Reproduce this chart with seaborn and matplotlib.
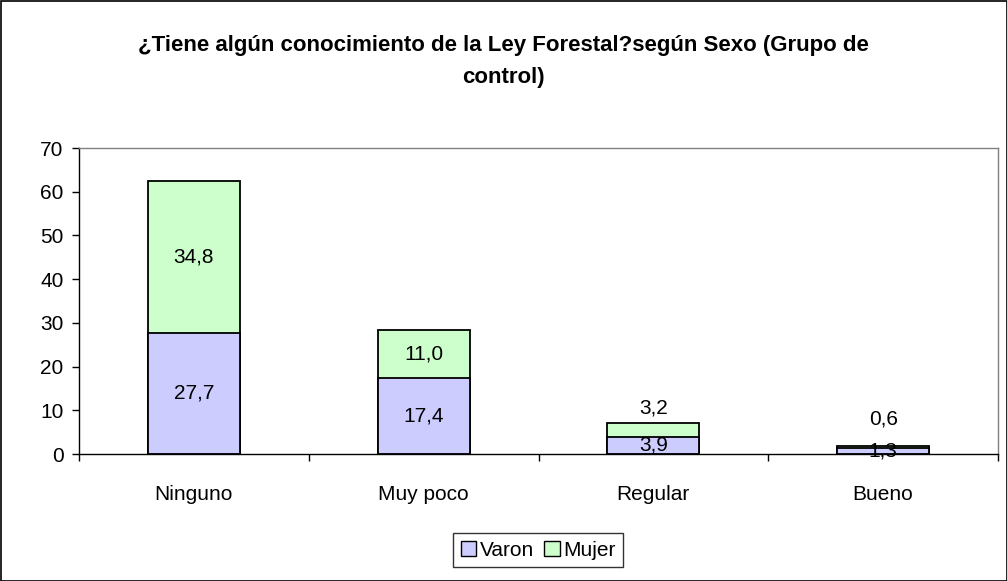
import matplotlib
matplotlib.use("Agg")
import matplotlib.pyplot as plt
import seaborn as sns
import pandas as pd
import numpy as np
from matplotlib.patches import Patch, Rectangle

categories = ["Ninguno", "Muy poco", "Regular", "Bueno"]
varon = [27.7, 17.4, 3.9, 1.3]
mujer = [34.8, 11.0, 3.2, 0.6]
yticks = [0, 10, 20, 30, 40, 50, 60, 70]

sns.set_theme(style="white")
plt.rcParams['font.family'] = ['Liberation Sans', 'DejaVu Sans']
plt.rcParams['text.color'] = 'black'
plt.rcParams['xtick.color'] = 'black'
plt.rcParams['ytick.color'] = 'black'
plt.rcParams['axes.labelcolor'] = 'black'

c_varon = "#CCCCFF"
c_mujer = "#CCFFCC"
FS = 15

df = pd.DataFrame({"cat": categories, "varon": varon, "mujer": mujer})
df["total"] = df["varon"] + df["mujer"]

fig = plt.figure(figsize=(10.07, 5.81), dpi=100)
ax = fig.add_axes([79/1007, 1 - 454/581, (998-79)/1007, (454-148)/581])

sns.barplot(data=df, x="cat", y="total", color=c_mujer, saturation=1,
            edgecolor="black", linewidth=1.3, width=0.4, ax=ax)
sns.barplot(data=df, x="cat", y="varon", color=c_varon, saturation=1,
            edgecolor="black", linewidth=1.3, width=0.4, ax=ax)

ax.set_xlim(-0.5, 3.5)
ax.set_ylim(0, 70)
ax.set_yticks(yticks)
ax.set_yticklabels([str(t) for t in yticks], fontsize=FS, color="black")
ax.set_xlabel("")
ax.set_ylabel("")
ax.set_xticks(range(len(categories)))
ax.set_xticklabels(categories, fontsize=FS, color="black")
ax.tick_params(axis="x", length=0, pad=22)
ax.tick_params(axis="y", length=5, width=1, color="black", direction="out", pad=6, left=True)
ax.set_xticks(np.arange(-0.5, 3.6, 1), minor=True)
ax.tick_params(axis="x", which="minor", length=5, width=1, color="black", direction="out", bottom=True)

for s in ["left", "bottom"]:
    ax.spines[s].set_color("black")
    ax.spines[s].set_linewidth(1)
for s in ["top", "right"]:
    ax.spines[s].set_color("#808080")
    ax.spines[s].set_linewidth(1)

def fmt(v):
    return f"{v:.1f}".replace(".", ",")

for i, (v, m) in enumerate(zip(varon, mujer)):
    ax.text(i, v / 2, fmt(v), ha="center", va="center", fontsize=FS, color="black")
    if m < 5:
        off = 11 if m > 1 else 19
        ax.annotate(fmt(m), xy=(i, v + m), xytext=(0, off), textcoords="offset points",
                    ha="center", va="center", fontsize=FS, color="black")
    else:
        ax.text(i, v + m / 2, fmt(m), ha="center", va="center", fontsize=FS, color="black")

fig.text(0.5, 1 - 45/581, "¿Tiene algún conocimiento de la Ley Forestal?según Sexo (Grupo de",
         ha="center", va="center", fontsize=16, fontweight="bold", color="black")
fig.text(0.5, 1 - 78/581, "control)", ha="center", va="center", fontsize=16, fontweight="bold",
         color="black")

handles = [Patch(facecolor=c_varon, edgecolor="black", linewidth=1, label="Varon"),
           Patch(facecolor=c_mujer, edgecolor="black", linewidth=1, label="Mujer")]
leg = fig.legend(handles=handles, loc="center", bbox_to_anchor=(538/1007, 1 - 550/581),
                 ncol=2, fontsize=FS, frameon=True, fancybox=False, edgecolor="black",
                 handlelength=0.75, handleheight=0.75, handletextpad=0.15, columnspacing=0.5,
                 borderpad=0.35, labelcolor="black")
leg.get_frame().set_linewidth(1)

fig.patches.append(Rectangle((0.5/1007, 0.5/581), 1 - 1/1007, 1 - 1/581, transform=fig.transFigure,
                             fill=False, edgecolor="black", linewidth=1.2))

fig.savefig("out.png", dpi=100, facecolor="white")
